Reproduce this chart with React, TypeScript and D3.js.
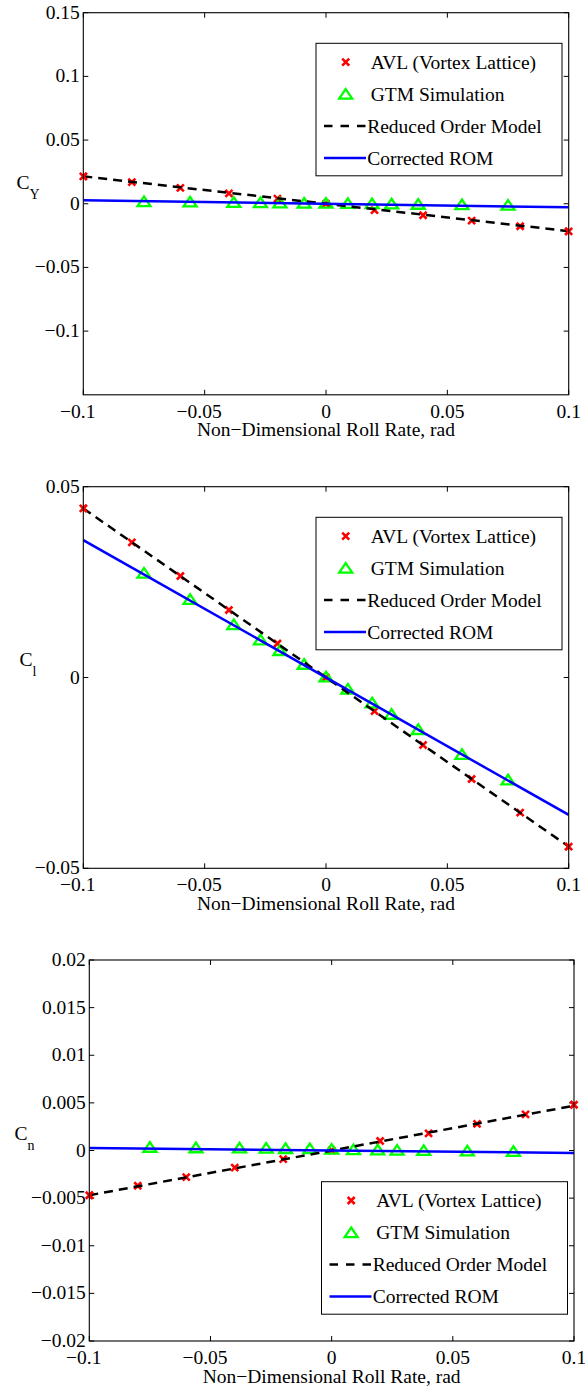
import React from 'react';
import * as d3 from 'd3';

// ---- data ----
const avlRate = [-0.1, -0.08, -0.06, -0.04, -0.02, 0, 0.02, 0.04, 0.06, 0.08, 0.1];
const avlCY = [0.0215, 0.017, 0.0125, 0.0081, 0.004, 0, -0.005, -0.009, -0.0133, -0.0177, -0.0217];
const avlCl = [0.0443, 0.0354, 0.0266, 0.0177, 0.0089, 0, -0.0088, -0.0177, -0.0266, -0.0354, -0.0443];
const avlCn = [-0.0047, -0.0037, -0.0028, -0.0018, -0.0009, 0, 0.001, 0.0018, 0.0028, 0.0038, 0.0048];

const gtmRate = [-0.075, -0.056, -0.038, -0.027, -0.019, -0.009, 0, 0.009, 0.019, 0.027, 0.038, 0.056, 0.075];
const gtmCY = [0.0018, 0.0015, 0.0012, 0.001, 0.0008, 0.0006, 0.0005, 0.0003, 0.0001, 0, -0.0003, -0.0006, -0.001];
const gtmCl = [0.0274, 0.0205, 0.0139, 0.0099, 0.0071, 0.0035, 0.0002, -0.003, -0.0066, -0.0096, -0.0136, -0.0201, -0.0268];
const gtmCn = [0.00035, 0.0003, 0.00028, 0.00025, 0.00022, 0.0002, 0.00015, 0.0001, 0.00008, 0.00005, 0.00002, -0.00003, -0.00008];

const lineRate = [-0.1, 0.1];
const romCY = [0.0215, -0.0215];
const romCl = [0.0443, -0.0443];
const romCn = [-0.0047, 0.0047];
const corrCY = [0.0028, -0.0028];
const corrCl = [0.036, -0.036];
const corrCn = [0.00025, -0.00025];

const xTicks = [-0.1, -0.05, 0, 0.05, 0.1];
const yTicksCY = [-0.1, -0.05, 0, 0.05, 0.1, 0.15];
const yTicksCl = [-0.05, 0, 0.05];
const yTicksCn = [-0.02, -0.015, -0.01, -0.005, 0, 0.005, 0.01, 0.015, 0.02];

const legendLabels = ['AVL (Vortex Lattice)', 'GTM Simulation', 'Reduced Order Model', 'Corrected ROM'];
const xTitle = 'Non\u2212Dimensional Roll Rate, rad';

const FONT = "'Liberation Serif', 'Times New Roman', 'DejaVu Serif', serif";
const FS = 19.5;
const RED = '#ff0000';
const GREEN = '#00ff00';
const BLUE = '#0000ff';

const fmt = (v: number) => {
  if (Math.abs(v) < 1e-12) return '0';
  const s = String(+v.toFixed(4));
  return s.replace('-', '\u2212');
};

function XMark({ x, y }: { x: number; y: number }) {
  const h = 3.5;
  return (
    <path
      d={`M${x - h},${y - h}L${x + h},${y + h}M${x - h},${y + h}L${x + h},${y - h}`}
      stroke={RED}
      strokeWidth={2.6}
      fill="none"
    />
  );
}

function Tri({ x, y }: { x: number; y: number }) {
  return (
    <path
      d={`M${x},${y - 5}L${x + 6.5},${y + 4.6}L${x - 6.5},${y + 4.6}Z`}
      stroke={GREEN}
      strokeWidth={2.3}
      fill="none"
      strokeLinejoin="miter"
    />
  );
}

type PanelProps = {
  id: string;
  left: number;
  right: number;
  top: number;
  bottom: number;
  yDomain: [number, number];
  yTicks: number[];
  avl: number[];
  gtm: number[];
  rom: number[];
  corr: number[];
  legLeft: number;
  legTop: number;
  sub: string;
  labX: number;
  labY: number;
};

function Panel(p: PanelProps) {
  const x = d3.scaleLinear().domain([-0.1, 0.1]).range([p.left, p.right]);
  const y = d3.scaleLinear().domain(p.yDomain).range([p.bottom, p.top]);
  const line = d3
    .line<[number, number]>()
    .x((d) => x(d[0]))
    .y((d) => y(d[1]));
  const romPts = lineRate.map((r, i) => [r, p.rom[i]] as [number, number]);
  const corrPts = lineRate.map((r, i) => [r, p.corr[i]] as [number, number]);
  const tl = 5;
  const legW = 246;
  const legH = 132.5;
  const rowY = (i: number) => p.legTop + 18.8 + 32 * i;
  const lx0 = p.legLeft + 8;
  const lx1 = p.legLeft + 50;
  const mx = p.legLeft + 29.7;
  const tx = p.legLeft + 54.7;
  return (
    <g>
      <defs>
        <clipPath id={`clip-${p.id}`}>
          <rect x={p.left} y={p.top} width={p.right - p.left} height={p.bottom - p.top} />
        </clipPath>
      </defs>
      {xTicks.map((t) => (
        <g key={`xt${t}`}>
          <line x1={x(t)} x2={x(t)} y1={p.bottom} y2={p.bottom - tl} stroke="#000" strokeWidth={1} />
          <line x1={x(t)} x2={x(t)} y1={p.top} y2={p.top + tl} stroke="#000" strokeWidth={1} />
          <text
            x={x(t) - (t < 0 ? 5.5 : 0)}
            y={p.bottom + 23}
            textAnchor="middle"
            fontFamily={FONT}
            fontSize={FS}
          >
            {fmt(t)}
          </text>
        </g>
      ))}
      {p.yTicks.map((t) => (
        <g key={`yt${t}`}>
          <line x1={p.left} x2={p.left + tl} y1={y(t)} y2={y(t)} stroke="#000" strokeWidth={1} />
          <line x1={p.right} x2={p.right - tl} y1={y(t)} y2={y(t)} stroke="#000" strokeWidth={1} />
          <text x={p.left - 3.5} y={y(t) + 6} textAnchor="end" fontFamily={FONT} fontSize={FS}>
            {fmt(t)}
          </text>
        </g>
      ))}
      <g clipPath={`url(#clip-${p.id})`}>
        {avlRate.map((r, i) => (
          <XMark key={`a${i}`} x={x(r)} y={y(p.avl[i])} />
        ))}
        {gtmRate.map((r, i) => (
          <Tri key={`g${i}`} x={x(r)} y={y(p.gtm[i])} />
        ))}
        <path d={line(romPts) || ''} stroke="#000" strokeWidth={2.5} strokeDasharray="9,6" fill="none" />
        <path d={line(corrPts) || ''} stroke={BLUE} strokeWidth={2.5} fill="none" />
      </g>
      {avlRate.map((r, i) =>
        Math.abs(r) >= 0.1 ? <XMark key={`ae${i}`} x={x(r)} y={y(p.avl[i])} /> : null
      )}
      <rect
        x={p.left}
        y={p.top}
        width={p.right - p.left}
        height={p.bottom - p.top}
        fill="none"
        stroke="#000"
        strokeWidth={1.1}
      />
      <text x={(p.left + p.right) / 2} y={p.bottom + 41.5} textAnchor="middle" fontFamily={FONT} fontSize={FS}>
        {xTitle}
      </text>
      <text x={p.labX} y={p.labY} fontFamily={FONT} fontSize={FS}>
        C
        <tspan fontSize={14} dy={10}>
          {p.sub}
        </tspan>
      </text>
      <rect x={p.legLeft} y={p.legTop} width={legW} height={legH} fill="#fff" stroke="#000" strokeWidth={1} />
      <XMark x={mx} y={rowY(0)} />
      <Tri x={mx} y={rowY(1)} />
      <line x1={lx0} x2={lx1} y1={rowY(2)} y2={rowY(2)} stroke="#000" strokeWidth={2.5} strokeDasharray="8.5,8" />
      <line x1={lx0} x2={lx1} y1={rowY(3)} y2={rowY(3)} stroke={BLUE} strokeWidth={2.5} />
      {legendLabels.map((l, i) => (
        <text key={l} x={i === 2 || i === 3 ? tx - 3.5 : tx} y={rowY(i) + 6.8} fontFamily={FONT} fontSize={FS}>
          {l}
        </text>
      ))}
    </g>
  );
}

export default function App() {
  return (
    <svg
      width={585}
      height={1391}
      style={{ position: 'absolute', left: 0, top: 0, background: '#fff' }}
    >
      <rect x={0} y={0} width={585} height={1391} fill="#fff" />
      <Panel
        id="cy"
        left={83.3}
        right={568.7}
        top={12.7}
        bottom={394.8}
        yDomain={[-0.15, 0.15]}
        yTicks={yTicksCY}
        avl={avlCY}
        gtm={gtmCY}
        rom={romCY}
        corr={corrCY}
        legLeft={316}
        legTop={43.3}
        sub="Y"
        labX={16.5}
        labY={189}
      />
      <Panel
        id="cl"
        left={83.3}
        right={568.7}
        top={486.7}
        bottom={868.3}
        yDomain={[-0.05, 0.05]}
        yTicks={yTicksCl}
        avl={avlCl}
        gtm={gtmCl}
        rom={romCl}
        corr={corrCl}
        legLeft={316}
        legTop={517.3}
        sub="l"
        labX={19.5}
        labY={666}
      />
      <Panel
        id="cn"
        left={89.3}
        right={574}
        top={960}
        bottom={1341}
        yDomain={[-0.02, 0.02]}
        yTicks={yTicksCn}
        avl={avlCn}
        gtm={gtmCn}
        rom={romCn}
        corr={corrCn}
        legLeft={321.5}
        legTop={1181.7}
        sub="n"
        labX={14.5}
        labY={1140}
      />
    </svg>
  );
}
